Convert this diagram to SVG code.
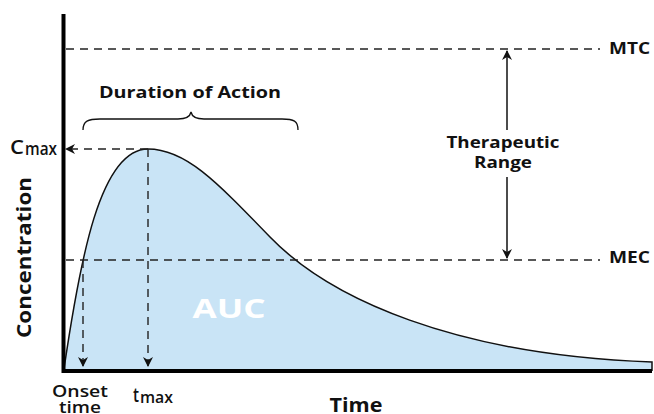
<svg xmlns="http://www.w3.org/2000/svg" width="654" height="414" viewBox="0 0 654 414">
<defs>
<marker id="ah" viewBox="0 0 10 10" refX="9" refY="5" markerWidth="10" markerHeight="10" markerUnits="userSpaceOnUse" orient="auto-start-reverse">
<path d="M0,0 L10,5 L0,10 L3,5 Z" fill="#111"/>
</marker>
<style>
text{font-family:"Open Sans","Liberation Sans",sans-serif;fill:#111}
.b{font-weight:700}
.m{font-weight:600}
.dash{stroke:#222;stroke-width:1.4;stroke-dasharray:8 6;fill:none}
.axis{stroke:#000;stroke-width:4;fill:none}
</style>
</defs>
<rect width="654" height="414" fill="#fff"/>
<g id="auc">
<path d="M64,369 C80,260 100,149 148,149 C185,149 215,180 270,237 C330,299 455,355 652,362 L652,371 L64,371 Z" fill="#c9e4f6"/>
<path d="M64,369 C80,260 100,149 148,149 C185,149 215,180 270,237 C330,299 455,355 652,362 L652,371" fill="none" stroke="#111" stroke-width="1.5"/>
<text x="229" y="318" class="b" font-size="27" text-anchor="middle" textLength="73" lengthAdjust="spacingAndGlyphs" style="fill:#fff">AUC</text>
</g>
<g id="connectors">
<line class="dash" x1="66" y1="49" x2="600" y2="49"/>
<line class="dash" x1="66" y1="260" x2="600" y2="260"/>
<line class="dash" x1="148" y1="149" x2="66" y2="149" marker-end="url(#ah)"/>
<line class="dash" x1="148" y1="149" x2="148" y2="366" marker-end="url(#ah)"/>
<line class="dash" x1="83" y1="260" x2="83" y2="366" marker-end="url(#ah)"/>
<line x1="507" y1="130" x2="507" y2="51" stroke="#111" stroke-width="1.5" marker-end="url(#ah)"/>
<line x1="507" y1="177" x2="507" y2="258" stroke="#111" stroke-width="1.5" marker-end="url(#ah)"/>
<path d="M83,130 C83,121 88,119 100,119 L178,119 C186,119 190,117 191,112 C192,117 196,119 204,119 L282,119 C294,119 298,121 298,130" fill="none" stroke="#111" stroke-width="1.3"/>
</g>
<g id="axes">
<line class="axis" x1="63.5" y1="14" x2="63.5" y2="373"/>
<line class="axis" x1="62" y1="371" x2="652" y2="371"/>
</g>
<g id="labels">
<text x="190" y="98" class="b" font-size="16" text-anchor="middle" textLength="182" lengthAdjust="spacingAndGlyphs">Duration of Action</text>
<text x="503" y="148" class="b" font-size="16" text-anchor="middle" textLength="113" lengthAdjust="spacingAndGlyphs">Therapeutic</text>
<text x="503" y="168" class="b" font-size="16" text-anchor="middle" textLength="58" lengthAdjust="spacingAndGlyphs">Range</text>
<text x="609" y="54" class="b" font-size="16" textLength="41" lengthAdjust="spacingAndGlyphs">MTC</text>
<text x="609" y="263" class="b" font-size="16" textLength="41" lengthAdjust="spacingAndGlyphs">MEC</text>
<text x="10" y="154" class="m" font-size="20" textLength="14" lengthAdjust="spacingAndGlyphs">C</text>
<text x="25" y="155" class="m" font-size="18" textLength="32" lengthAdjust="spacingAndGlyphs">max</text>
<text x="133" y="402" class="m" font-size="19" textLength="6" lengthAdjust="spacingAndGlyphs">t</text>
<text x="140" y="403" class="m" font-size="17" textLength="33" lengthAdjust="spacingAndGlyphs">max</text>
<text x="80" y="397" class="m" font-size="17" text-anchor="middle" textLength="56" lengthAdjust="spacingAndGlyphs">Onset</text>
<text x="80" y="413" class="m" font-size="17" text-anchor="middle" textLength="42" lengthAdjust="spacingAndGlyphs">time</text>
<text x="356" y="412" class="b" font-size="19" text-anchor="middle" textLength="53" lengthAdjust="spacingAndGlyphs">Time</text>
<text transform="translate(31,257.5) rotate(-90)" class="b" font-size="19" text-anchor="middle" textLength="161" lengthAdjust="spacingAndGlyphs">Concentration</text>
</g>
</svg>
